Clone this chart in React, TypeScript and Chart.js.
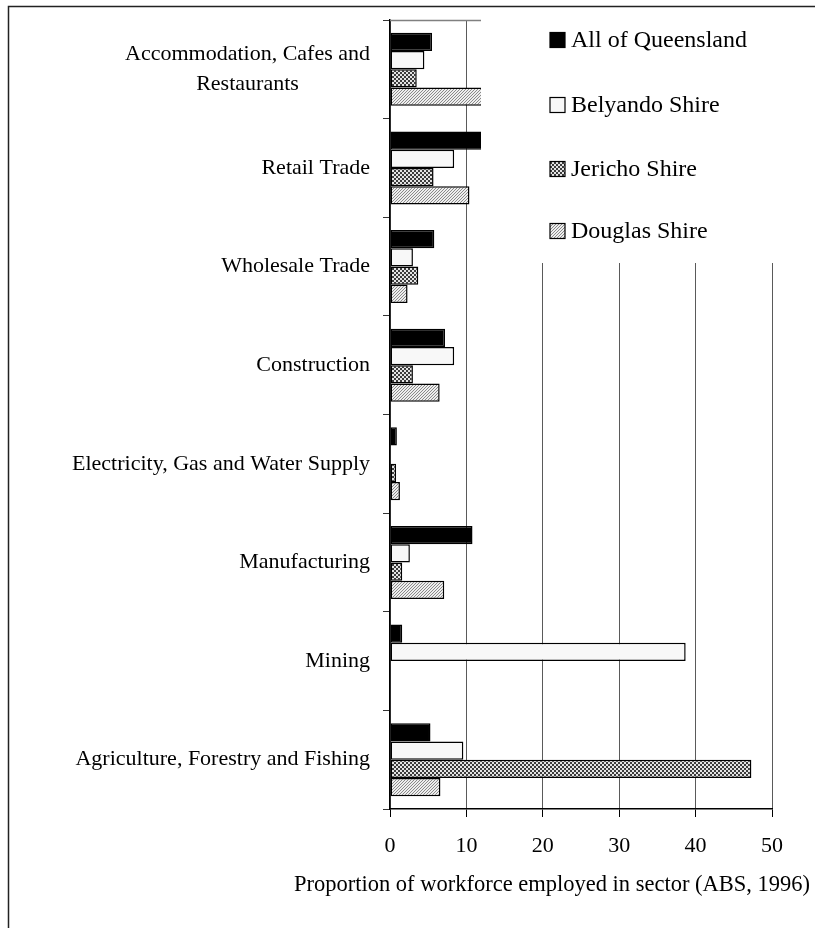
import React, { useEffect, useRef } from "react";
import { Chart, registerables } from "chart.js";

Chart.register(...registerables);

const categories: (string | string[])[] = [
  ["Accommodation, Cafes and", "Restaurants"],
  "Retail Trade",
  "Wholesale Trade",
  "Construction",
  "Electricity, Gas and Water Supply",
  "Manufacturing",
  "Mining",
  "Agriculture, Forestry and Fishing",
];
const seriesNames = ["All of Queensland", "Belyando Shire", "Jericho Shire", "Douglas Shire"];
const queensland = [5.5, 15.2, 5.8, 7.2, 0.9, 10.8, 1.6, 5.3];
const belyando = [4.5, 8.4, 3.0, 8.4, 0, 2.6, 38.7, 9.6];
const jericho = [3.5, 5.7, 3.7, 3.0, 0.8, 1.6, 0, 47.3];
const douglas = [15.0, 10.4, 2.3, 6.5, 1.3, 7.1, 0, 6.6];
const xTicks = [0, 10, 20, 30, 40, 50];
const xTitle = "Proportion of workforce employed in sector (ABS, 1996)";

const FONT = "'Liberation Serif', 'Times New Roman', serif";

function makeChecker(): CanvasPattern | string {
  const c = document.createElement("canvas");
  c.width = 4;
  c.height = 4;
  const g = c.getContext("2d");
  if (!g) return "#888";
  g.fillStyle = "#e4e4e4";
  g.fillRect(0, 0, 4, 4);
  g.fillStyle = "#3c3c3c";
  g.fillRect(0, 0, 2, 2);
  g.fillRect(2, 2, 2, 2);
  return g.createPattern(c, "repeat") || "#888";
}

function makeHatch(): CanvasPattern | string {
  const c = document.createElement("canvas");
  c.width = 3;
  c.height = 3;
  const g = c.getContext("2d");
  if (!g) return "#ccc";
  g.fillStyle = "#eeeeee";
  g.fillRect(0, 0, 3, 3);
  g.fillStyle = "#8a8a8a";
  for (let i = 0; i < 3; i++) g.fillRect(i, 2 - i, 1, 1);
  return g.createPattern(c, "repeat") || "#ccc";
}

export default function App() {
  const ref = useRef<HTMLCanvasElement | null>(null);

  useEffect(() => {
    document.body.style.margin = "0";
    const canvas = ref.current;
    if (!canvas) return;
    const checker = makeChecker();
    const hatch = makeHatch();
    const fills: (string | CanvasPattern)[] = ["#000000", "#f8f8f8", checker, hatch];
    const seriesData = [queensland, belyando, jericho, douglas];

    const overlay = {
      id: "overlay",
      afterDraw(chart: any) {
        const ctx: CanvasRenderingContext2D = chart.ctx;
        const area = chart.chartArea;
        const yScale = chart.scales.y;
        ctx.save();

        // legend box (white, covering the upper right of plot)
        const lx = 481;
        ctx.fillStyle = "#ffffff";
        ctx.fillRect(lx, area.top - 2, 815 - lx, 263 - area.top + 2);

        // top border of plot area
        ctx.strokeStyle = "#808080";
        ctx.lineWidth = 1.5;
        ctx.beginPath();
        ctx.moveTo(area.left, area.top + 0.5);
        ctx.lineTo(lx, area.top + 0.5);
        ctx.stroke();

        // outer frame
        ctx.strokeStyle = "#222";
        ctx.lineWidth = 1.5;
        ctx.beginPath();
        ctx.moveTo(8.5, 928);
        ctx.lineTo(8.5, 6.5);
        ctx.lineTo(815, 6.5);
        ctx.stroke();

        // legend items
        const rows = [40, 105, 169, 231];
        ctx.font = `24px ${FONT}`;
        ctx.textBaseline = "middle";
        ctx.textAlign = "left";
        seriesNames.forEach((name, i) => {
          const cy = rows[i];
          ctx.fillStyle = fills[i] as any;
          ctx.fillRect(550, cy - 7.5, 15, 15);
          ctx.strokeStyle = "#000";
          ctx.lineWidth = 1.2;
          ctx.strokeRect(550, cy - 7.5, 15, 15);
          ctx.fillStyle = "#000";
          ctx.fillText(name, 571, cy + 1);
        });

        // category labels
        ctx.font = `22px ${FONT}`;
        ctx.fillStyle = "#000";
        ctx.textAlign = "center";
        ctx.textBaseline = "middle";
        const rightEdge = 370;
        const lh = 30;
        categories.forEach((cat, i) => {
          const lines = Array.isArray(cat) ? cat : [cat];
          const cy = yScale.getPixelForValue(i);
          const w = Math.max(...lines.map((l) => ctx.measureText(l).width));
          const cx = rightEdge - w / 2;
          const startY = cy - ((lines.length - 1) * lh) / 2;
          lines.forEach((l, j) => ctx.fillText(l, cx, startY + j * lh));
        });

        // x axis title
        ctx.font = `22.5px ${FONT}`;
        ctx.fillText(xTitle, 552, 885);
        ctx.restore();
      },
    };

    const chart = new Chart(canvas, {
      type: "bar",
      data: {
        labels: categories as any,
        datasets: seriesNames.map((name, i) => ({
          label: name,
          data: seriesData[i],
          backgroundColor: fills[i] as any,
          borderColor: "#000",
          borderWidth: 1.5,
          borderSkipped: false,
          barPercentage: 1.0,
          categoryPercentage: 0.74,
        })),
      },
      options: {
        indexAxis: "y",
        animation: false,
        responsive: false,
        maintainAspectRatio: false,
        layout: { padding: { top: 20, right: 43, left: 0, bottom: 0 } },
        plugins: { legend: { display: false }, tooltip: { enabled: false } },
        scales: {
          y: {
            type: "category",
            offset: true,
            grid: {
              display: true,
              drawOnChartArea: false,
              drawTicks: true,
              tickLength: 7,
              offset: true,
              color: "#333",
              lineWidth: 1,
            },
            border: { display: true, color: "#000", width: 1.5 },
            ticks: { display: false },
            afterFit: (s: any) => {
              s.width = 390;
            },
          },
          x: {
            type: "linear",
            min: xTicks[0],
            max: xTicks[xTicks.length - 1],
            afterBuildTicks: (s: any) => {
              s.ticks = xTicks.map((v) => ({ value: v }));
            },
            ticks: {
              font: { family: FONT, size: 22 },
              color: "#000",
              padding: 16,
              maxRotation: 0,
            },
            grid: { color: "#5a5a5a", lineWidth: 1, tickLength: 8, tickColor: "#000" },
            border: { color: "#000", width: 1.5 },
            afterFit: (s: any) => {
              s.height = 119;
            },
          },
        },
      },
      plugins: [overlay],
    });
    return () => chart.destroy();
  }, []);

  return (
    <canvas
      ref={ref}
      width={815}
      height={928}
      style={{ display: "block", width: 815, height: 928 }}
    />
  );
}
